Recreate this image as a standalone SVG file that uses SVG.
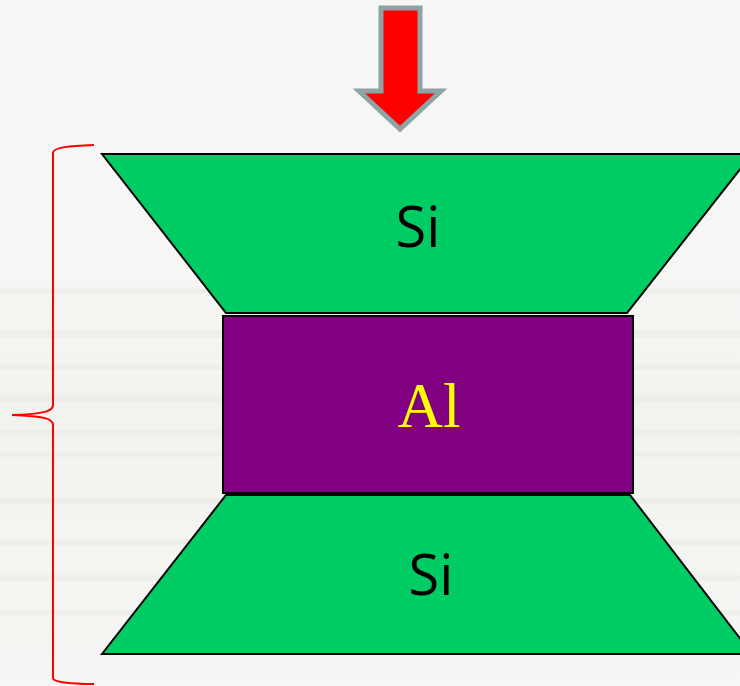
<svg xmlns="http://www.w3.org/2000/svg" width="740" height="686" viewBox="0 0 740 686">
  <defs>
    <linearGradient id="bg" x1="0" y1="0" x2="0" y2="1">
      <stop offset="0" stop-color="#f7f7f6"/>
      <stop offset="0.4" stop-color="#f6f6f4"/>
      <stop offset="0.6" stop-color="#f2f2ef"/>
      <stop offset="1" stop-color="#f6f6f4"/>
    </linearGradient>
    <style>
      .si { fill: #00cc66; stroke: #000; stroke-width: 2; stroke-linejoin: miter; }
      .al { fill: #800080; stroke: #000; stroke-width: 2; }
      .siText { font-family: "Open Sans", "Liberation Sans", sans-serif; font-size: 56px; fill: #000; }
      .alText { font-family: "Liberation Serif", serif; font-size: 63px; fill: #ffff00; }
      .streak { fill: #e4e4de; }
      .brace { fill: none; stroke: #ff0000; stroke-width: 2; }
    </style>
  </defs>
  <rect x="0" y="0" width="740" height="686" fill="url(#bg)"/>
  <g id="background-streaks" opacity="0.35">
    <rect class="streak" x="0" y="288" width="740" height="6"/>
    <rect class="streak" x="0" y="330" width="740" height="8"/>
    <rect class="streak" x="0" y="365" width="740" height="5"/>
    <rect class="streak" x="0" y="395" width="740" height="7"/>
    <rect class="streak" x="0" y="430" width="740" height="6"/>
    <rect class="streak" x="0" y="452" width="740" height="5"/>
    <rect class="streak" x="0" y="498" width="740" height="6"/>
    <rect class="streak" x="0" y="540" width="740" height="5"/>
    <rect class="streak" x="0" y="575" width="740" height="6"/>
    <rect class="streak" x="0" y="610" width="740" height="5"/>
  </g>

  <g id="arrow">
    <polygon points="381,8 420,8 420,91 441,91 400,129 359,91 381,91" fill="#ff0000" stroke="#8ea3a3" stroke-width="5" stroke-linejoin="miter"/>
  </g>

  <g id="brace">
    <path class="brace" d="M94,145 C70,146 53,147 53,153 L53,405 C53,411 45,414 12,415 C45,416 53,419 53,425 L53,678 C53,682 70,684 94,684"/>
  </g>

  <g id="si-top">
    <polygon class="si" points="102,154 752,154 627,313 226,313"/>
    <text class="siText" x="418" y="247" text-anchor="middle">Si</text>
  </g>

  <g id="al">
    <rect class="al" x="223" y="316" width="410" height="177"/>
    <text class="alText" x="429" y="427" text-anchor="middle">Al</text>
  </g>

  <g id="si-bottom">
    <polygon class="si" points="226,495 630,495 752,654 102,654"/>
    <text class="siText" x="431" y="595" text-anchor="middle">Si</text>
  </g>
</svg>
